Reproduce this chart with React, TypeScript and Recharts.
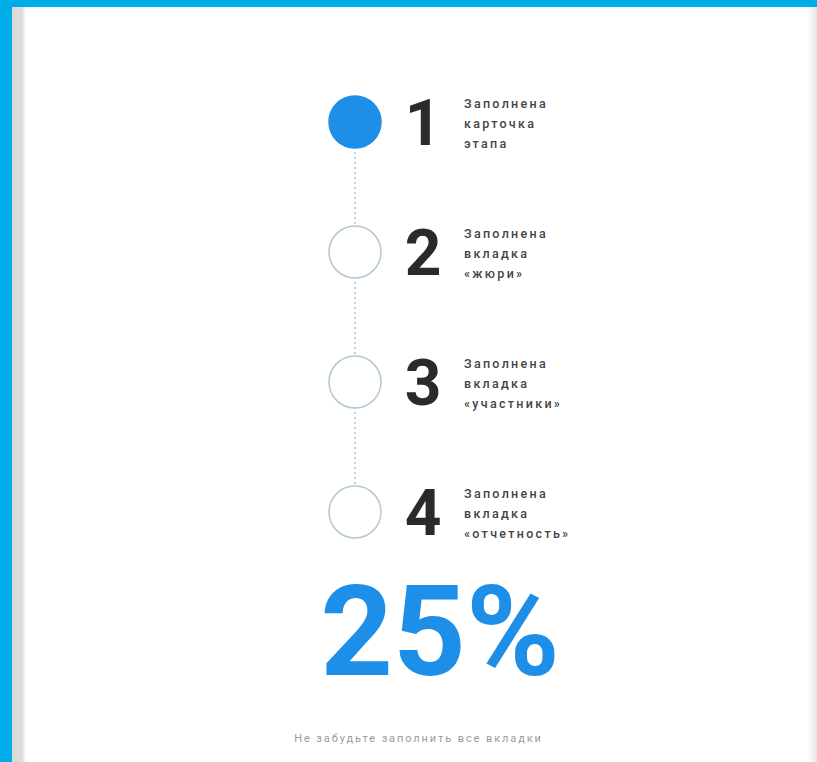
import React from "react"
import { ScatterChart, Scatter, XAxis, YAxis } from "recharts"

// steps of the form filling progress
const stepNumbers = [1, 2, 3, 4]
const stepTitles = ["Заполнена", "Заполнена", "Заполнена", "Заполнена"]
const stepDetails = [
  ["карточка", "этапа"],
  ["вкладка", "«жюри»"],
  ["вкладка", "«участники»"],
  ["вкладка", "«отчетность»"],
]
const stepDone = [true, false, false, false]
const percentDone = 25
const footerText = "Не забудьте заполнить все вкладки"

const BLUE = "#1E8FE8"

const data = stepNumbers.map((n, i) => ({
  x: 0,
  y: n,
  title: stepTitles[i],
  lines: stepDetails[i],
  done: stepDone[i],
}))

const StepShape = (props: any) => {
  const { cx, cy, payload } = props
  return (
    <g>
      <circle
        cx={cx}
        cy={cy}
        r={26}
        fill={payload.done ? BLUE : "#fff"}
        stroke={payload.done ? BLUE : "#b3c8d4"}
        strokeWidth={1.5}
      />
      <text
        x={cx + 68}
        y={cy + 23}
        textAnchor="middle"
        fontFamily="Roboto"
        fontWeight={700}
        fontSize={64}
        fill="#2a2a2a"
      >
        {payload.y}
      </text>
      {[payload.title, ...payload.lines].map((t: string, i: number) => (
        <text
          key={i}
          x={cx + 109}
          y={cy - 14 + i * 20}
          fontFamily="Roboto"
          fontWeight={500}
          fontSize={12.5}
          letterSpacing={2.3}
          fill="#444"
        >
          {t}
        </text>
      ))}
    </g>
  )
}

export default function App() {
  return (
    <div
      style={{
        position: "absolute",
        left: 0,
        top: 0,
        width: 817,
        height: 762,
        background: "#00ADE9",
        overflow: "hidden",
      }}
    >
      <div
        style={{
          position: "absolute",
          left: 12,
          top: 7,
          width: 805,
          height: 755,
          background: "linear-gradient(to right, #d9d9d9 0px, #dcdcdc 10px, #fff 14px, #fff 795px, #e6e6e6 805px)",
        }}
      />
      <div style={{ position: "absolute", left: 0, top: 0 }}>
        <ScatterChart width={817} height={762} margin={{ top: 57, right: 107, bottom: 185, left: 0 }}>
          <XAxis type="number" dataKey="x" domain={[-1, 1]} hide />
          <YAxis type="number" dataKey="y" domain={[0.5, 4.5]} reversed hide />
          <Scatter
            data={data}
            isAnimationActive={false}
            line={{ stroke: "#8fb3cc", strokeWidth: 1.2, strokeDasharray: "2 3" }}
            lineType="joint"
            shape={StepShape}
          />
        </ScatterChart>
      </div>
      <div
        style={{
          position: "absolute",
          left: 0,
          width: 880,
          top: 562,
          textAlign: "center",
          fontFamily: "Roboto",
          fontWeight: 700,
          fontSize: 127,
          lineHeight: "140px",
          color: BLUE,
        }}
      >
        {percentDone}%
      </div>
      <div
        style={{
          position: "absolute",
          left: 0,
          width: 837,
          top: 732,
          textAlign: "center",
          fontFamily: "Roboto",
          fontSize: 11,
          letterSpacing: 1.9,
          color: "#9a9a9a",
        }}
      >
        {footerText}
      </div>
    </div>
  )
}
